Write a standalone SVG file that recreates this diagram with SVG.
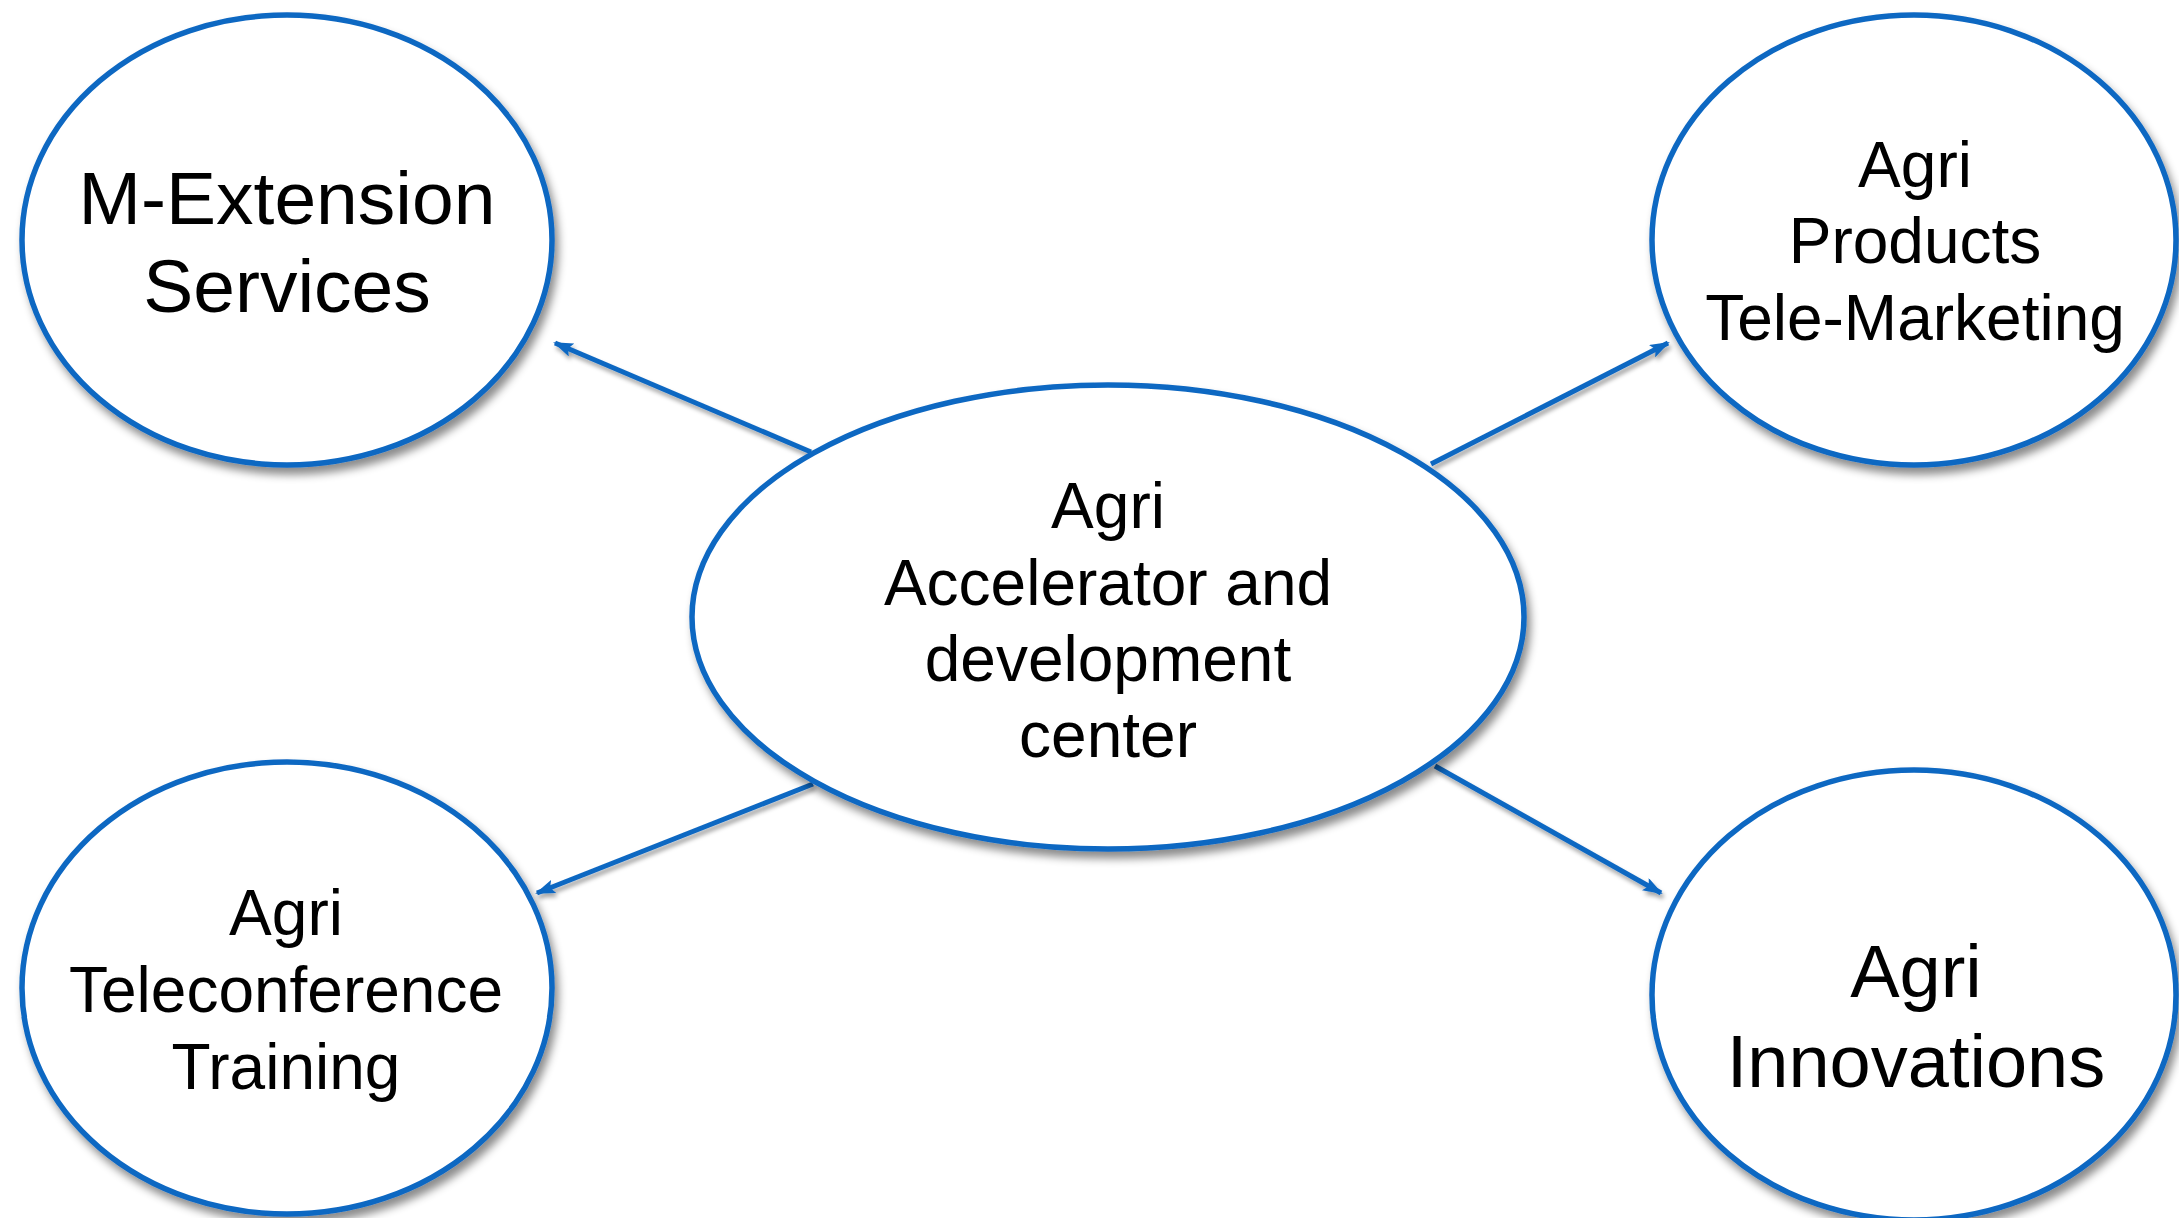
<svg xmlns="http://www.w3.org/2000/svg" width="2179" height="1218" viewBox="0 0 2179 1218">
<defs>
<style>
.node{fill:#ffffff;stroke:#0E67C2;stroke-width:5.5;filter:url(#sh)}
.lbl{font-family:"Liberation Sans",Arial,sans-serif;fill:#000000;text-anchor:middle}
.con{stroke:#0E67C2;stroke-width:5;fill:none;marker-end:url(#ah);filter:url(#sh2)}
</style>
<filter id="sh" x="-10%" y="-10%" width="125%" height="125%">
<feDropShadow dx="4" dy="7" stdDeviation="4" flood-color="#000000" flood-opacity="0.45"/>
</filter>
<filter id="sh2" x="-10%" y="-10%" width="125%" height="130%">
<feDropShadow dx="2" dy="4" stdDeviation="2" flood-color="#000000" flood-opacity="0.35"/>
</filter>
<marker id="ah" viewBox="0 0 20 14" refX="18" refY="7" markerWidth="20" markerHeight="14" markerUnits="userSpaceOnUse" orient="auto">
<path d="M0,0 L20,7 L0,14 L4,7 z" fill="#0E67C2"/>
</marker>
</defs>
<rect width="2179" height="1218" fill="#ffffff"/>
<g id="connectors">
<line class="con" x1="811" y1="452" x2="555" y2="343"/>
<line class="con" x1="1431" y1="464" x2="1668" y2="343"/>
<line class="con" x1="813" y1="784" x2="537" y2="893"/>
<line class="con" x1="1435" y1="766" x2="1661" y2="893"/>
</g>
<g id="center">
<ellipse class="node" cx="1108" cy="617" rx="416" ry="232"/>
<text class="lbl" font-size="64" x="1108" y="528">Agri</text>
<text class="lbl" font-size="64" x="1108" y="605">Accelerator and</text>
<text class="lbl" font-size="64" x="1108" y="681">development</text>
<text class="lbl" font-size="64" x="1108" y="757">center</text>
</g>
<g id="m-extension">
<ellipse class="node" cx="287" cy="240" rx="265" ry="225"/>
<text class="lbl" font-size="75" x="287" y="224">M-Extension</text>
<text class="lbl" font-size="75" x="287" y="312">Services</text>
</g>
<g id="tele-marketing">
<ellipse class="node" cx="1914" cy="240" rx="262" ry="225"/>
<text class="lbl" font-size="64" x="1915" y="187">Agri</text>
<text class="lbl" font-size="64" x="1915" y="263">Products</text>
<text class="lbl" font-size="64" x="1915" y="340">Tele-Marketing</text>
</g>
<g id="teleconference">
<ellipse class="node" cx="287" cy="988" rx="265" ry="226"/>
<text class="lbl" font-size="64" x="286" y="935">Agri</text>
<text class="lbl" font-size="64" x="286" y="1012">Teleconference</text>
<text class="lbl" font-size="64" x="286" y="1089">Training</text>
</g>
<g id="innovations">
<ellipse class="node" cx="1914" cy="995" rx="262" ry="225"/>
<text class="lbl" font-size="74" x="1916" y="997">Agri</text>
<text class="lbl" font-size="74" x="1916" y="1087">Innovations</text>
</g>
</svg>
